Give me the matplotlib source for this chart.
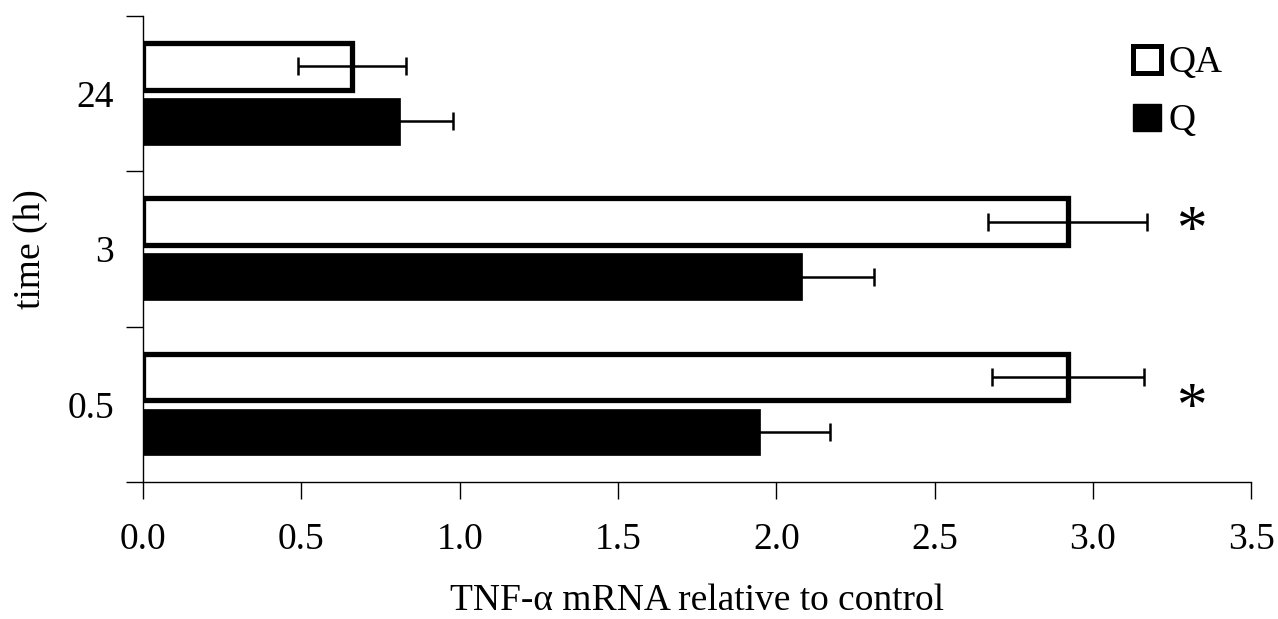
import numpy as np
import matplotlib
matplotlib.use("Agg")
import matplotlib.pyplot as plt
from matplotlib.patches import Patch

plt.rcParams['font.family'] = ['Liberation Serif', 'DejaVu Serif']

# data
times = ['0.5', '3', '24']
qa_vals = [2.92, 2.92, 0.66]
qa_err = [0.24, 0.25, 0.17]
q_vals = [1.95, 2.08, 0.81]
q_err = [0.22, 0.23, 0.17]
# asterisks: x position and y (in category units)
star_x = [3.31, 3.31]
star_y = [0.06, 1.20]

fs = 27
y = np.arange(len(times))
off = 0.177
h = 0.30

fig = plt.figure(figsize=(12.78, 6.19), dpi=100)
ax = fig.add_axes([0.112, 0.221, 0.867, 0.753])

ax.barh(y + off, qa_vals, height=h, color='white', edgecolor='black', linewidth=3.8, zorder=2)
ax.barh(y - off, q_vals, height=h, color='black', edgecolor='black', linewidth=0.5, zorder=2)
ax.errorbar(qa_vals, y + off, xerr=qa_err, fmt='none', ecolor='black',
            elinewidth=1.8, capsize=6.5, capthick=1.8, zorder=3)
ax.errorbar(q_vals, y - off, xerr=q_err, fmt='none', ecolor='black',
            elinewidth=1.8, capsize=6.5, capthick=1.8, zorder=3)

# significance stars (glyph centre ~0.185 units above baseline)
for sx, sy in zip(star_x, star_y):
    ax.text(sx, sy - 0.185, '*', fontsize=44, ha='center', va='baseline')

ax.set_xlim(0, 3.5)
ax.set_ylim(-0.5, 2.5)
ax.set_xticks(np.arange(0, 3.51, 0.5))
ax.set_xticklabels([f'{v:.1f}' for v in np.arange(0, 3.51, 0.5)], fontsize=fs)
ax.set_yticks(np.arange(-0.5, 2.6, 1.0))
ax.set_yticklabels([])
ax.set_yticks(y, minor=True)
ax.set_yticklabels(times, minor=True, fontsize=fs)
ax.tick_params(axis='y', which='minor', length=0, pad=21)
ax.tick_params(axis='y', which='major', length=12, width=1, direction='out')
ax.tick_params(axis='x', length=12, width=1, direction='out', pad=17)

for sp in ['top', 'right']:
    ax.spines[sp].set_visible(False)
for sp in ['left', 'bottom']:
    ax.spines[sp].set_linewidth(1)

ax.set_xlabel('TNF-α mRNA relative to control', fontsize=fs, va='top')
ax.xaxis.set_label_coords(0.5, -0.217)
ax.set_ylabel('time (h)', fontsize=fs)
ax.yaxis.set_label_coords(-0.086, 0.5)

handles = [Patch(facecolor='white', edgecolor='black', linewidth=3.6, label='QA'),
           Patch(facecolor='black', edgecolor='black', label='Q')]
ax.legend(handles=handles, loc='upper right', bbox_to_anchor=(0.998, 0.993), frameon=False,
          fontsize=fs, handlelength=0.74, handleheight=0.74, handletextpad=0.2,
          labelspacing=0.62, borderpad=0.2)

fig.savefig('out.png', dpi=100)
